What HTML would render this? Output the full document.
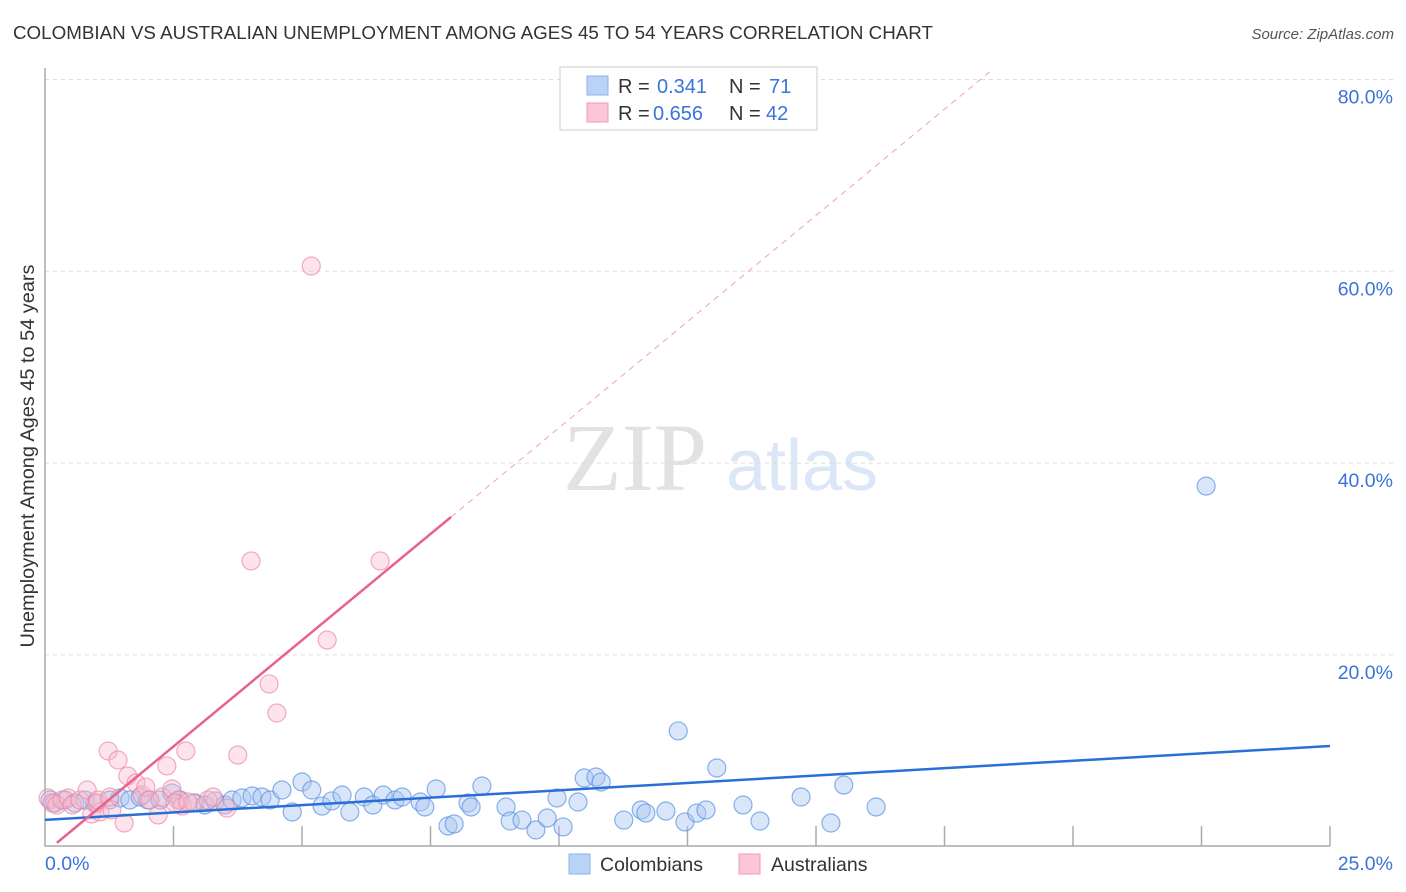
<!DOCTYPE html>
<html><head><meta charset="utf-8"><style>
body{margin:0;background:#fff;font-family:"Liberation Sans",sans-serif;}
</style></head><body>
<svg id="chart" width="1406" height="892" xmlns="http://www.w3.org/2000/svg" style="display:block">
<text x="13" y="39" font-size="18" fill="#333" textLength="920" lengthAdjust="spacingAndGlyphs" font-family="Liberation Sans, sans-serif">COLOMBIAN VS AUSTRALIAN UNEMPLOYMENT AMONG AGES 45 TO 54 YEARS CORRELATION CHART</text>
<text x="1394" y="39" font-size="15" fill="#555" text-anchor="end" font-style="italic">Source: ZipAtlas.com</text>
<text transform="translate(34,456) rotate(-90)" font-size="19" fill="#333" text-anchor="middle" textLength="383" lengthAdjust="spacingAndGlyphs">Unemployment Among Ages 45 to 54 years</text>
<g>
<text x="635" y="490" font-size="96" fill="#e2e2e2" text-anchor="middle" font-family="Liberation Serif, serif">ZIP</text>
<text x="802" y="490" font-size="72" fill="#dbe6f7" text-anchor="middle">atlas</text>
</g>
<g id="grid"></g><g id="axes"></g><g id="marks"></g><g id="lines"></g>
<g>
<rect x="560" y="67" width="257" height="63" fill="#fff" stroke="#ccc"/>
<rect x="587" y="76" width="21" height="19" fill="#b9d2f5" stroke="#8db3ea"/>
<rect x="587" y="103" width="21" height="19" fill="#fbc6d6" stroke="#f09ab5"/>
<text x="618" y="93" font-size="20" fill="#333">R = </text><text x="657" y="93" font-size="20" fill="#3b73d9">0.341</text>
<text x="729" y="93" font-size="20" fill="#333">N = </text><text x="769" y="93" font-size="20" fill="#3b73d9">71</text>
<text x="618" y="120" font-size="20" fill="#333">R = </text><text x="653" y="120" font-size="20" fill="#3b73d9">0.656</text>
<text x="729" y="120" font-size="20" fill="#333">N = </text><text x="766" y="120" font-size="20" fill="#3b73d9">42</text>
</g>
<g>
<rect x="569" y="854" width="21" height="20" fill="#b9d2f5" stroke="#8db3ea"/>
<text x="600" y="871" font-size="19.5" fill="#333">Colombians</text>
<rect x="739" y="854" width="21" height="20" fill="#fbc6d6" stroke="#f09ab5"/>
<text x="771" y="871" font-size="19.5" fill="#333">Australians</text>
</g>
</svg>
<script>
const yTicks=[20,40,60,80];
const yTickLabels=["20.0%","40.0%","60.0%","80.0%"];
const xTickLabels=["0.0%","25.0%"];
const blueX=[0.10,0.19,0.39,0.58,0.78,0.97,1.26,1.46,1.65,1.85,2.00,2.24,2.47,2.63,2.92,3.11,3.31,3.50,3.64,3.83,4.03,4.22,4.38,4.61,4.81,5.00,5.19,5.39,5.58,5.78,5.93,6.21,6.38,6.58,6.81,6.95,7.30,7.39,7.61,7.84,7.96,8.23,8.29,8.50,8.97,9.05,9.28,9.55,9.77,9.96,10.08,10.37,10.49,10.72,10.82,11.26,11.60,11.69,12.08,12.32,12.45,12.68,12.86,13.07,13.58,13.91,14.71,15.29,15.54,16.17,22.59];
const blueY=[4.87,4.56,4.87,4.56,4.87,4.56,4.87,5.08,4.87,5.18,4.87,4.87,5.6,4.87,4.56,4.35,4.77,4.35,4.87,5.08,5.29,5.18,4.87,5.91,3.62,6.75,5.91,4.24,4.77,5.39,3.62,5.18,4.35,5.39,4.87,5.18,4.66,4.14,6.02,2.16,2.37,4.56,4.14,6.33,4.14,2.68,2.78,1.74,2.99,5.08,2.06,4.66,7.16,7.27,6.75,2.78,3.83,3.51,3.72,12.07,2.58,3.51,3.83,8.21,4.35,2.68,5.18,2.47,6.43,4.14,37.6];
const pinkX=[0.06,0.14,0.23,0.33,0.45,0.53,0.68,0.82,0.91,1.01,1.07,1.23,1.30,1.42,1.54,1.61,1.77,1.89,1.96,2.20,2.28,2.37,2.47,2.59,2.67,2.74,2.88,3.17,3.27,3.54,3.75,4.01,4.36,4.51,5.18,5.49,6.52,1.03,1.26,2.04,2.53,2.78];
const pinkY=[5.08,4.56,4.35,4.87,5.08,4.35,4.87,5.91,3.41,4.56,3.62,9.98,3.83,9.04,2.47,7.37,6.64,5.39,6.22,3.31,5.18,8.42,6.02,4.87,4.24,9.98,4.56,4.87,5.18,4.03,9.56,29.8,16.97,13.94,60.55,21.55,29.8,4.87,5.18,4.87,4.56,4.66];
const blueFit=[2.8,0.308];
const pinkFit=[-0.62,4.43];
const NS="http://www.w3.org/2000/svg";
const X=v=>45+v*51.4, Y=v=>846.7-v*9.59;
function mk(t,a,p){const e=document.createElementNS(NS,t);for(const k in a)e.setAttribute(k,a[k]);p.appendChild(e);return e;}
const grid=document.getElementById('grid'),axes=document.getElementById('axes'),marks=document.getElementById('marks'),lines=document.getElementById('lines');
yTicks.forEach((t,i)=>{
 const g=mk('line',{x1:45,x2:1393,y1:Y(t),y2:Y(t),stroke:'#ddd','stroke-dasharray':'4,4'},grid);
 
 
 const l=mk('text',{x:1393,y:Y(t)+24,'font-size':19.5,fill:'#3b73d9','text-anchor':'end'},axes);
 l.textContent=yTickLabels[i];
 
 
});
const ax=mk('path',{d:'M45 68V846H1330',stroke:'#aaa',fill:'none','stroke-width':1.5},axes);


for(let i=1;i<=10;i++){const t=mk('line',{x1:X(i*2.5),x2:X(i*2.5),y1:826,y2:846,stroke:'#aaa','stroke-width':1.5},axes);
 
 }
[[0,'start',45],[25,'end',1393]].forEach((d,i)=>{const l=mk('text',{x:d[2],y:870,'font-size':19.5,fill:'#3b73d9','text-anchor':d[1]},axes);l.textContent=xTickLabels[i];
 
 });
blueX.forEach((x,i)=>{const c=mk('circle',{cx:X(x),cy:Y(blueY[i]),r:9,fill:'rgba(170,200,242,0.45)',stroke:'rgba(90,145,225,0.7)','stroke-width':1.2},marks);
 
 });
pinkX.forEach((x,i)=>{const c=mk('circle',{cx:X(x),cy:Y(pinkY[i]),r:9,fill:'rgba(250,185,205,0.4)',stroke:'rgba(235,130,160,0.65)','stroke-width':1.2},marks);
 
 });
const bl=mk('line',{x1:X(0),y1:Y(blueFit[0]),x2:X(25),y2:Y(blueFit[0]+25*blueFit[1]),stroke:'#2a6fd6','stroke-width':2.5},lines);


const x0=(0.4-pinkFit[0])/pinkFit[1], x1=7.9, x2=(81-pinkFit[0])/pinkFit[1];
const pl=mk('line',{x1:X(x0),y1:Y(pinkFit[0]+x0*pinkFit[1]),x2:X(x1),y2:Y(pinkFit[0]+x1*pinkFit[1]),stroke:'#e8628e','stroke-width':2.5},lines);


const pd=mk('line',{x1:X(x1),y1:Y(pinkFit[0]+x1*pinkFit[1]),x2:X(x2),y2:Y(pinkFit[0]+x2*pinkFit[1]),stroke:'#f0a0b8','stroke-width':1,'stroke-dasharray':'6,5'},lines);


</script>
</body></html>
